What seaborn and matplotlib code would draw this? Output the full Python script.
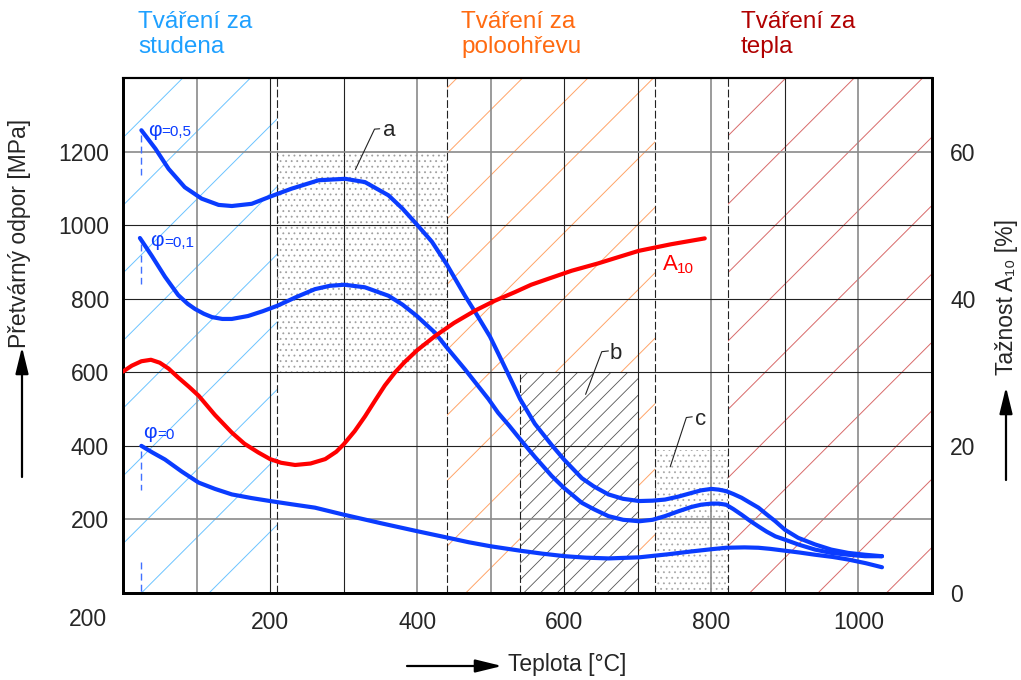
import numpy as np
import pandas as pd
import matplotlib
matplotlib.use("Agg")
import matplotlib.pyplot as plt
import seaborn as sns
from matplotlib.patches import Rectangle, Polygon

# ---------------- data ----------------
temp_phi05 = [25, 44, 62, 84, 107, 130, 148, 175, 202, 229, 266, 302, 329, 361, 380, 399, 420,
              440, 465, 480, 499, 510, 525, 540, 560, 583, 600, 624, 640, 660, 680, 702, 720,
              737, 755, 773, 786, 800, 810, 820, 830, 841, 852, 864, 875, 887, 900, 918, 941,
              963, 986, 1009, 1032]
phi05 = [1258, 1208, 1153, 1103, 1072, 1055, 1052, 1058, 1079, 1099, 1122, 1126, 1117, 1081,
         1045, 1003, 955, 894, 808, 760, 697, 652, 590, 527, 460, 402, 362, 312, 290, 268, 256,
         250, 251, 254, 262, 272, 279, 283, 281, 277, 269, 259, 246, 232, 214, 195, 172, 150,
         132, 118, 109, 104, 100]

temp_phi01 = [23, 39, 57, 75, 88, 98, 110, 121, 135, 148, 170, 190, 210, 235, 261, 281, 301, 329,
              361, 380, 399, 424, 440, 465, 480, 497, 510, 525, 540, 560, 583, 600, 624, 640,
              660, 680, 702, 720, 737, 755, 773, 786, 800, 810, 820, 830, 841, 852, 864, 875,
              887, 900, 918, 941, 963, 986, 1009, 1032]
phi01 = [965, 917, 860, 810, 786, 772, 759, 750, 745, 745, 753, 766, 781, 804, 826, 835, 838,
         831, 808, 784, 754, 708, 668, 608, 570, 527, 490, 455, 418, 370, 318, 285, 245, 228,
         209, 199, 195, 199, 209, 222, 234, 240, 243, 243, 240, 228, 213, 197, 181, 167, 154,
         145, 132, 118, 109, 104, 100, 100]

temp_phi0 = [25, 40, 57, 80, 103, 125, 148, 175, 200, 230, 261, 300, 350, 400, 440, 470, 500,
             540, 570, 601, 630, 660, 702, 740, 773, 800, 820, 845, 864, 880, 900, 920, 941,
             965, 986, 1010, 1032]
phi0 = [400, 382, 363, 330, 300, 283, 268, 258, 250, 241, 232, 213, 190, 168, 151, 138, 127,
        115, 107, 100, 96, 94, 97, 105, 113, 119, 123, 124, 123, 120, 115, 110, 104, 98, 91,
        81, 70]

temp_a10 = [0, 12, 25, 38, 50, 62, 75, 90, 103, 125, 148, 165, 184, 200, 215, 234, 255, 275,
            290, 300, 315, 329, 343, 356, 370, 383, 400, 424, 450, 479, 505, 533, 555, 578,
            610, 646, 675, 701, 745, 791]
a10 = [30.1, 30.9, 31.5, 31.7, 31.3, 30.5, 29.3, 28.0, 26.8, 24.2, 21.8, 20.3, 19.1, 18.2,
       17.7, 17.4, 17.6, 18.2, 19.2, 20.2, 22.0, 24.0, 26.2, 28.2, 30.0, 31.4, 33.0, 34.9,
       36.7, 38.4, 39.7, 40.9, 41.9, 42.7, 43.8, 44.8, 45.7, 46.5, 47.4, 48.2]

x_ticks = [200, 400, 600, 800, 1000]
y_ticks = [200, 400, 600, 800, 1000, 1200]
y2_ticks = [0, 20, 40, 60]

# region boundaries (temperature) and box limits
zone_cold = (0, 210)
zone_warm = (440, 723)
zone_hot = (822, 1100)
box_a = (210, 440, 600, 1200)
box_b = (540, 700, 0, 600)
box_c = (723, 822, 0, 390)

# ---------------- style ----------------
sns.set_style("white")
plt.rcParams["font.family"] = ["Liberation Sans", "DejaVu Sans"]
plt.rcParams["hatch.linewidth"] = 0.6

BLUE = "#0A3CFF"
RED = "#FF0000"
C_COLD = "#1EA0FF"
C_WARM = "#FF6A10"
C_HOT = "#B00000"
H_COLD = "#6CC4FF"
H_WARM = "#FFA468"
H_HOT = "#D86A6A"

W, H = 1021, 680
fig = plt.figure(figsize=(W / 100, H / 100), dpi=100)
L, R, T, B = 123, 932, 78, 593
ax = fig.add_axes([L / W, 1 - B / H, (R - L) / W, (B - T) / H])
XMAX, YMAX = 1100, 1400
ax.set_xlim(0, XMAX)
ax.set_ylim(0, YMAX)
slope = ((B - T) / YMAX) ** -1 * ((R - L) / XMAX)  # data-y per data-x for 45 deg in pixels


def hatch(verts, color, c0, step):
    poly = Polygon(verts, closed=True, transform=ax.transData)
    for c in np.arange(c0 - 20 * step, XMAX + step, step):
        ln, = ax.plot([c, c + YMAX / slope], [0, YMAX], color=color, lw=0.7, zorder=1)
        ln.set_clip_path(poly)


hatch([(zone_cold[0], 0), (zone_cold[1], 0), (zone_cold[1], YMAX), (zone_cold[0], YMAX)],
      H_COLD, 25, 92)
hatch([(zone_warm[0], 0), (box_b[0], 0), (box_b[0], box_b[3]), (box_b[1], box_b[3]),
       (box_b[1], 0), (zone_warm[1], 0), (zone_warm[1], YMAX), (zone_warm[0], YMAX)],
      H_WARM, 21, 89)
hatch([(zone_hot[0], 0), (zone_hot[1], 0), (zone_hot[1], YMAX), (zone_hot[0], YMAX)],
      H_HOT, 201, 93)

# grid
for xv in range(100, 1100, 100):
    light = xv in (100, 400, 500, 800, 1000)
    ax.axvline(xv, color="#8a8a8a" if light else "#222222", lw=1.2 if light else 0.8, zorder=2)
for yv in range(200, 1400, 200):
    light = yv in (200, 1200)
    ax.axhline(yv, color="#8a8a8a" if light else "#222222", lw=1.2 if light else 0.8, zorder=2)
for xv in (zone_cold[1], zone_warm[0], zone_warm[1], zone_hot[0]):
    ax.axvline(xv, color="#222222", lw=0.8, ls=(0, (7, 2.5)), zorder=2)
ax.plot([box_b[0], box_b[0]], [box_b[2], box_b[3]], color="#222222", lw=0.8, ls=(0, (7, 2.5)), zorder=2)

# boxes
ax.add_patch(Rectangle((box_a[0], box_a[2]), box_a[1] - box_a[0], box_a[3] - box_a[2],
                       facecolor="none", edgecolor="#a0a0a0", hatch="...", lw=0, zorder=1.5))
ax.add_patch(Rectangle((box_b[0], box_b[2]), box_b[1] - box_b[0], box_b[3] - box_b[2],
                       facecolor="none", edgecolor="#555555", hatch="//", lw=0, zorder=1.5))
ax.add_patch(Rectangle((box_c[0], box_c[2]), box_c[1] - box_c[0], box_c[3] - box_c[2],
                       facecolor="none", edgecolor="#a8a8a8", hatch="...", lw=0, zorder=1.5))

# curves
for tx, vy in ((temp_phi05, phi05), (temp_phi01, phi01), (temp_phi0, phi0)):
    sns.lineplot(x=tx, y=vy, ax=ax, color=BLUE, lw=3, estimator=None, sort=False, zorder=5,
                 solid_joinstyle="round", solid_capstyle="round")

# start markers (dashed)
DB = "#4070FF"
for y0, y1 in ((1244, 1135), (950, 840), (386, 281), (83, 0)):
    ax.plot([25, 25], [y0, y1], color=DB, lw=1, ls=(0, (5, 3)), zorder=4)

# phi labels
for (xp, yp), txt, xt in (((44, 1258), "=0,5", 73), ((46, 958), "=0,1", 76),
                          ((37, 436), "=0", 59)):
    ax.text(xp, yp, "φ", color=BLUE, fontsize=15, ha="center", va="center", zorder=6)
    ax.text(xt, yp - 6, txt, color=BLUE, fontsize=11, ha="center", va="center", zorder=6)

# a, b, c labels
for pts, lab, pos in ((([316, 342, 349], [1151, 1261, 1262]), "a", (362, 1258)),
                      (([629, 651, 660], [540, 656, 658]), "b", (670, 652)),
                      (([744, 766, 774], [343, 477, 479]), "c", (786, 472))):
    ax.plot(pts[0], pts[1], color="#222222", lw=0.8, zorder=6)
    ax.text(pos[0], pos[1], lab, fontsize=16, ha="center", va="center", zorder=6)

ax.set_xticks(x_ticks)
ax.set_xticklabels([str(v) for v in x_ticks])
ax.set_yticks(y_ticks)
ax.set_yticklabels([str(v) for v in y_ticks])
ax.tick_params(axis="both", length=0, labelsize=16.5)
ax.tick_params(axis="y", pad=10)
ax.tick_params(axis="x", pad=13)
ax.set_xlabel("")
ax.set_ylabel("")

# twin axis for elongation
ax2 = ax.twinx()
ax2.set_ylim(0, 70)
sns.lineplot(x=temp_a10, y=a10, ax=ax2, color=RED, lw=3, estimator=None, sort=False, zorder=5,
             solid_joinstyle="round", solid_capstyle="round")
ax2.set_yticks(y2_ticks)
ax2.set_yticklabels([str(v) for v in y2_ticks])
ax2.tick_params(axis="y", length=0, labelsize=16.5, pad=13)
ax2.set_ylabel("")
ax2.text(744, 44.6, "A", color=RED, fontsize=16, ha="center", va="center")
ax2.text(765, 44.0, "10", color=RED, fontsize=11, ha="center", va="center")

for a in (ax, ax2):
    for s in a.spines.values():
        s.set_color("black")
        s.set_linewidth(2)
    a.spines["top"].set_linewidth(1.5)

# zone titles
fig.text(138 / W, 1 - 11 / H, "Tváření za\nstudena", color=C_COLD, fontsize=17.5,
         ha="left", va="top", linespacing=1.2)
fig.text(461 / W, 1 - 11 / H, "Tváření za\npoloohřevu", color=C_WARM, fontsize=17.5,
         ha="left", va="top", linespacing=1.2)
fig.text(741 / W, 1 - 11 / H, "Tváření za\ntepla", color=C_HOT, fontsize=17.5,
         ha="left", va="top", linespacing=1.2)

# stray lower-left label
fig.text(88 / W, 1 - 620 / H, "200", fontsize=16.5, ha="center", va="center")

# axis titles with arrows
AP = dict(arrowstyle="-|>,head_length=0.9,head_width=0.22", color="black", lw=1.6,
          mutation_scale=18, shrinkA=0, shrinkB=0)
fig.text(20 / W, 1 - 233 / H, "Přetvárný odpor [MPa]", rotation=90, fontsize=16.5,
         ha="center", va="center")
fig.add_artist(plt.matplotlib.text.Annotation("", xy=(22 / W, 1 - 347 / H), xytext=(22 / W, 1 - 477 / H),
                                              xycoords="figure fraction", textcoords="figure fraction",
                                              arrowprops=AP))
fig.text(1006 / W, 1 - 297 / H, "Tažnost A₁₀ [%]", rotation=90, fontsize=16.5,
         ha="center", va="center")
fig.add_artist(plt.matplotlib.text.Annotation("", xy=(1006 / W, 1 - 387 / H), xytext=(1006 / W, 1 - 480 / H),
                                              xycoords="figure fraction", textcoords="figure fraction",
                                              arrowprops=AP))
fig.text(508 / W, 1 - 665 / H, "Teplota [°C]", fontsize=16.5, ha="left", va="center")
fig.add_artist(plt.matplotlib.text.Annotation("", xy=(502 / W, 1 - 666 / H), xytext=(407 / W, 1 - 666 / H),
                                              xycoords="figure fraction", textcoords="figure fraction",
                                              arrowprops=AP))

fig.savefig("out.png", dpi=100)
